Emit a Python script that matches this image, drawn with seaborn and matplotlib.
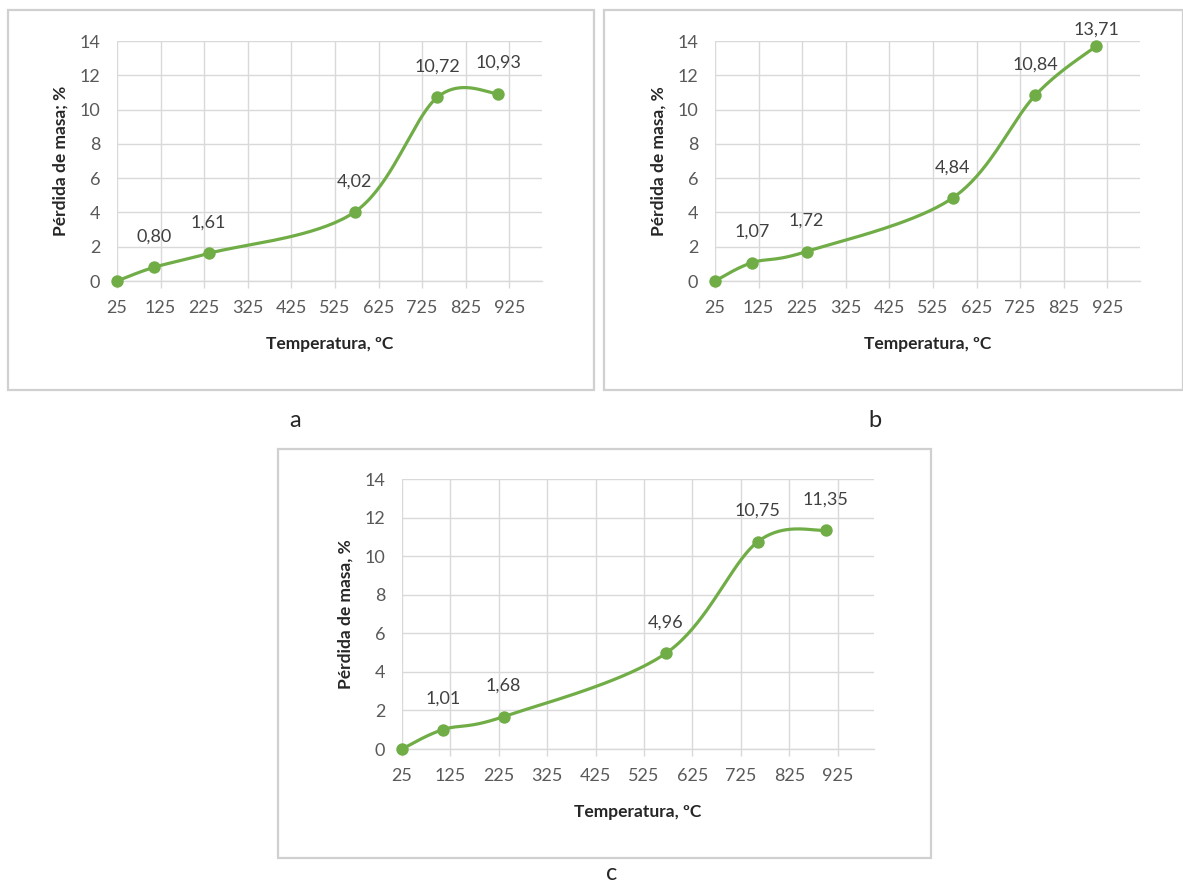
import numpy as np
import pandas as pd
import matplotlib
matplotlib.use("Agg")
import matplotlib.pyplot as plt
from matplotlib.patches import Rectangle
import seaborn as sns

# ---- data ----
temps = [25, 110, 235, 570, 760, 900]
loss_a = [0.00, 0.80, 1.61, 4.02, 10.72, 10.93]
loss_b = [0.00, 1.07, 1.72, 4.84, 10.84, 13.71]
loss_c = [0.00, 1.01, 1.68, 4.96, 10.75, 11.35]
labels_a = ["", "0,80", "1,61", "4,02", "10,72", "10,93"]
labels_b = ["", "1,07", "1,72", "4,84", "10,84", "13,71"]
labels_c = ["", "1,01", "1,68", "4,96", "10,75", "11,35"]
xticks = [25, 125, 225, 325, 425, 525, 625, 725, 825, 925]
yticks = [0, 2, 4, 6, 8, 10, 12, 14]
ylabels = ["Pérdida de masa; %", "Pérdida de masa, %", "Pérdida de masa, %"]
xlabel = "Temperatura, ºC"
panel_letters = ["a", "b", "c"]

sns.set_theme(style="white")
plt.rcParams["font.family"] = ["Lato", "DejaVu Sans"]

W, H = 1183, 886
fig = plt.figure(figsize=(W / 100, H / 100), dpi=100)
fig.patch.set_facecolor("white")

GREEN = "#70AD47"
GRID = "#d9d9d9"
TICK = "#595959"
XMIN, XMAX, YMIN, YMAX = 25, 1000, 0, 14


def px_axes(l, r, t, b):
    return fig.add_axes([l / W, 1 - b / H, (r - l) / W, (b - t) / H])


def box(l, r, t, b):
    fig.patches.append(Rectangle((l / W, 1 - b / H), (r - l) / W, (b - t) / H,
                                 transform=fig.transFigure, fill=False,
                                 edgecolor="#d0d0d0", linewidth=1.6, zorder=0))


def smooth(x, y, wpx, hpx, n=40):
    # Excel-style smoothed line (Catmull-Rom / Bezier) in screen space
    px = (np.asarray(x, float) - XMIN) / (XMAX - XMIN) * wpx
    py = (np.asarray(y, float) - YMIN) / (YMAX - YMIN) * hpx
    P = np.column_stack([px, py])
    P = np.vstack([P[0], P, P[-1]])
    out = []
    for i in range(1, len(P) - 2):
        p0, p1, p2, p3 = P[i - 1], P[i], P[i + 1], P[i + 2]
        c1 = p1 + (p2 - p0) / 6
        c2 = p2 - (p3 - p1) / 6
        t = np.linspace(0, 1, n)[:, None]
        seg = ((1 - t) ** 3) * p1 + 3 * ((1 - t) ** 2) * t * c1 + 3 * (1 - t) * t ** 2 * c2 + t ** 3 * p2
        out.append(seg if i == 1 else seg[1:])
    S = np.vstack(out)
    return S[:, 0] / wpx * (XMAX - XMIN) + XMIN, S[:, 1] / hpx * (YMAX - YMIN) + YMIN


def panel(rect, boxr, loss, labels, ylab, letter, letter_pos, top_offset=22):
    l, r, t, b = rect
    box(*boxr)
    ax = px_axes(l, r, t, b)
    sx, sy = smooth(temps, loss, r - l, b - t)
    sns.lineplot(x=sx, y=sy, sort=False, estimator=None, ax=ax, color=GREEN,
                 linewidth=2.3, zorder=3)
    sns.scatterplot(x=temps, y=loss, ax=ax, color=GREEN, s=80, edgecolor=GREEN,
                    linewidth=0, zorder=4, clip_on=False)
    for xv, yv, lab in zip(temps, loss, labels):
        if lab:
            off = 22 if yv < 13 else top_offset
            ax.annotate(lab, (xv, yv), xytext=(0, off), textcoords="offset points",
                        ha="center", va="center", fontsize=13, color="#404040",
                        annotation_clip=False)
    ax.set_xlim(XMIN, XMAX)
    ax.set_ylim(YMIN, YMAX)
    ax.set_xticks(xticks)
    ax.set_yticks(yticks)
    ax.set_xticklabels([str(v) for v in xticks], fontsize=13, color=TICK)
    ax.set_yticklabels([str(v) for v in yticks], fontsize=13, color=TICK)
    ax.grid(True, color=GRID, linewidth=1.0)
    ax.set_axisbelow(True)
    for s in ["top", "right", "left"]:
        ax.spines[s].set_visible(False)
    ax.spines["bottom"].set_color(GRID)
    ax.spines["bottom"].set_linewidth(1.0)
    ax.tick_params(axis="x", length=5, color=GRID, width=1, pad=9, direction="out", bottom=True)
    ax.tick_params(axis="y", length=0, pad=12)
    ax.set_xlabel(xlabel, fontsize=12.5, fontweight="bold", color="#262626", labelpad=14)
    ax.set_ylabel(ylab, fontsize=12.5, fontweight="bold", color="#262626", labelpad=8)
    ax.patch.set_alpha(0)
    fig.text(letter_pos[0] / W, 1 - letter_pos[1] / H, letter, fontsize=17,
             color="#262626", ha="center", va="center")
    return ax


panel((117, 542, 41, 281), (8, 594, 10, 390), loss_a, labels_a, ylabels[0],
      panel_letters[0], (295, 420))
panel((715, 1140, 41, 281), (604, 1183, 10, 390), loss_b, labels_b, ylabels[1],
      panel_letters[1], (875, 420), top_offset=12)
panel((402, 874, 479, 749), (278, 931, 449, 858), loss_c, labels_c, ylabels[2],
      panel_letters[2], (612, 873))

fig.savefig("out.png", dpi=100, facecolor="white")
